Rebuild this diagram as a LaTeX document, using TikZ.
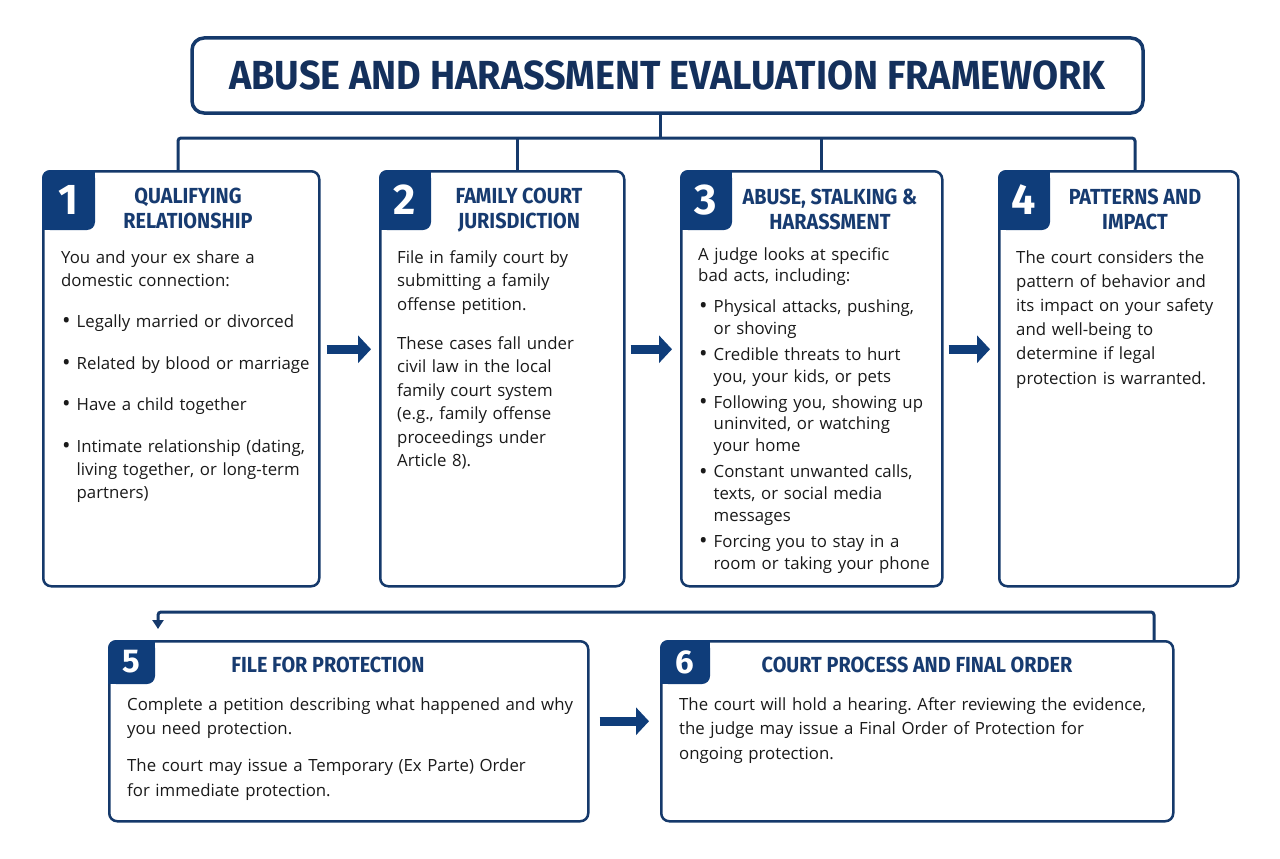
\documentclass[tikz,border=0pt]{standalone}
\usepackage{fontspec}
\setmainfont{Open Sans}
\newfontfamily\titlefont{Fira Sans}
\newfontfamily\headfont[FakeStretch=0.91]{Fira Sans}
\usepackage{graphicx}
\usetikzlibrary{arrows.meta}
\definecolor{navyline}{HTML}{15396B}
\definecolor{navyfill}{HTML}{0F3D7A}
\definecolor{headblue}{HTML}{173B70}
\definecolor{titleblue}{HTML}{14305C}
\definecolor{bodyink}{HTML}{1A1A1A}
\def\itm[#1]{\par\vspace{#1}\noindent\hspace*{1pt}\makebox[14.5pt][l]{\raisebox{-0.08em}{\scalebox{1.35}{\textbullet}}}}
\def\nl{\newline\hspace*{15.5pt}}
\def\numtag(#1)(#2:#3)#4#5{%
	\fill[navyfill, rounded corners=8pt] (#1.north west) rectangle ++(#2,#3);
	\fill[navyfill] ([xshift=#2pt-10pt]#1.north west) rectangle ++(10,10);
	\fill[navyfill] ([yshift=-#3pt+10pt]#1.north west) rectangle ++(10,10);
	\node[text=white, inner sep=0pt, font=\titlefont\bfseries\fontsize{#5}{#5}\selectfont] (#1n) at ([xshift=#2pt/2, yshift=-#3pt/2]#1.north west) {#4};}

\begin{document}
\begin{tikzpicture}[x=1pt, y=-1pt,
	card/.style={draw=navyline, line width=2.5pt, rounded corners=8pt, fill=white, inner sep=0pt, anchor=north west},
	head/.style={text=headblue, font=\headfont\bfseries\fontsize{21.8}{25}\selectfont, align=center, inner sep=0pt, anchor=north},
	body/.style={text=bodyink, font=\frenchspacing\fontsize{16.8}{#1}\selectfont, align=left, inner sep=0pt, anchor=base west},
	link/.style={draw=navyline, line width=3pt},
	bigarrow/.style={draw=navyfill, line width=9pt, -{Triangle[length=13pt, width=27pt]}}]
	%%%%% START %%%%%
	
	\useasboundingbox[fill=white] (0,0) rectangle (1280,859);
	
	% title
	\node[draw=navyline, line width=3.5pt, rounded corners=12pt, fill=white, minimum width=951pt, minimum height=75pt, inner sep=0pt,
		text=titleblue, font=\titlefont\bfseries\fontsize{40.6}{44}\selectfont] (title) at (667.5, 75.5)
		{\scalebox{0.93}[1]{ABUSE AND HARASSMENT EVALUATION FRAMEWORK}};
	
	% upper row
	\node[card, minimum width=276pt, minimum height=415pt] (b1) at (42, 170) {};
	\node[card, minimum width=244pt, minimum height=415pt] (b2) at (379, 170) {};
	\node[card, minimum width=261pt, minimum height=415pt] (b3) at (680, 170) {};
	\node[card, minimum width=239pt, minimum height=415pt] (b4) at (998, 170) {};
	
	\numtag(b1)(53:60){1}{43}
	\numtag(b2)(52:60){2}{43}
	\numtag(b3)(52:60){3}{43}
	\numtag(b4)(52:60){4}{43}
	
	\node[head] (h1) at (188, 188) {QUALIFYING\\RELATIONSHIP};
	\node[head] (h2) at (519, 188) {FAMILY COURT\\JURISDICTION};
	\node[head] (h3) at (830, 189) {ABUSE, STALKING \&\\HARASSMENT};
	\node[head] (h4) at (1135, 189) {PATTERNS AND\\IMPACT};
	
	\node[body=23, text width=280pt] (t1) at (61, 263) {You and your ex share a\newline domestic connection:
		\itm[18.5pt]Legally married or divorced
		\itm[18.5pt]Related by blood or marriage
		\itm[18.5pt]Have a child together
		\itm[18.5pt]Intimate relationship (dating,\nl living together, or long-term\nl partners)};
	
	\node[body=23.5, text width=260pt] (t2) at (397, 263) {File in family court by\newline submitting a family\newline offense petition.
		\par\vspace{15.5pt}
		These cases fall under\newline civil law in the local\newline family court system\newline (e.g., family offense\newline proceedings under\newline Article 8).};
	
	\node[body=21.7, text width=280pt] (t3) at (698, 260) {A judge looks at specific\newline bad acts, including:
		\itm[9pt]Physical attacks, pushing,\nl or shoving
		\itm[4.5pt]Credible threats to hurt\nl you, your kids, or pets
		\itm[4.5pt]Following you, showing up\nl uninvited, or watching\nl your home
		\itm[4.5pt]Constant unwanted calls,\nl texts, or social media\nl messages
		\itm[4.5pt]Forcing you to stay in a\nl room or taking your phone};
	
	\node[body=24.2, text width=260pt] (t4) at (1016, 263) {The court considers the\newline pattern of behavior and\newline its impact on your safety\newline and well-being to\newline determine if legal\newline protection is warranted.};
	
	% lower row
	\node[card, minimum width=479pt, minimum height=180pt] (b5) at (108, 640) {};
	\node[card, minimum width=512pt, minimum height=180pt] (b6) at (660, 640) {};
	
	\numtag(b5)(47:44){5}{33}
	\numtag(b6)(50:44){6}{33}
	
	\node[head] (h5) at (328, 657) {FILE FOR PROTECTION};
	\node[head] (h6) at (917, 657) {COURT PROCESS AND FINAL ORDER};
	
	\node[body=24.5, text width=500pt] (t5) at (127, 710) {Complete a petition describing what happened and why\newline you need protection.
		\par\vspace{12.5pt}
		The court may issue a Temporary (Ex Parte) Order\newline for immediate protection.};
	
	\node[body=24.5, text width=520pt] (t6) at (679, 710) {The court will hold a hearing. After reviewing the evidence,\newline the judge may issue a Final Order of Protection for\newline ongoing protection.};
	
	% tree under the title
	\coordinate (trunk) at (660, 138);
	\coordinate (j1) at (178, 138);
	\coordinate (j2) at (517, 138);
	\coordinate (j3) at (821, 138);
	\coordinate (j4) at (1135, 138);
	\draw[link] (trunk |- title.south) -- (trunk);
	\draw[link, rounded corners=3pt] (j1 |- b1.north) -- (j1) -- (j4) -- (j4 |- b4.north);
	\draw[link] (j2) -- (j2 |- b2.north);
	\draw[link] (j3) -- (j3 |- b3.north);
	
	% arrows between steps
	\draw[bigarrow, shorten <=6pt, shorten >=8pt] ([yshift=29.5pt]b1.east) -- ([yshift=29.5pt]b2.west);
	\draw[bigarrow, shorten <=5pt, shorten >=8pt] ([yshift=29.5pt]b2.east) -- ([yshift=29.5pt]b3.west);
	\draw[bigarrow, shorten <=5pt, shorten >=8pt] ([yshift=29.5pt]b3.east) -- ([yshift=29.5pt]b4.west);
	\draw[bigarrow, shorten <=10pt, shorten >=11pt] ([yshift=10pt]b5.east) -- ([yshift=10pt]b6.west);
	
	% return line to step 5
	\coordinate (r6) at (1154, 612);
	\coordinate (r5) at (158, 612);
	\draw[link, rounded corners=3pt, -{Triangle[length=9pt, width=11pt]}, shorten >=11pt] (r6 |- b6.north) -- (r6) -- (r5) -- (r5 |- b5.north);
	
	%%%%% END %%%%%
\end{tikzpicture}
\end{document}
